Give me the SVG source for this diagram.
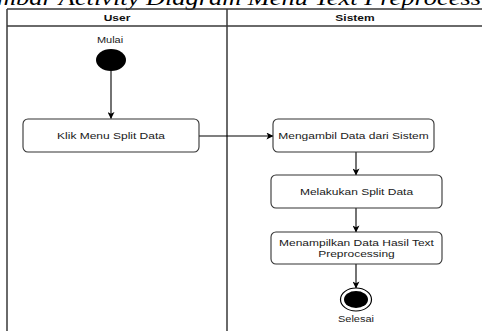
<svg xmlns="http://www.w3.org/2000/svg" width="482" height="331" viewBox="0 0 482 331">
  <defs>
    <style>
      .lane { fill: none; stroke: #3a3a3a; stroke-width: 1.5; }
      .act { fill: #ffffff; stroke: #333333; stroke-width: 1.1; }
      .lbl { font-family: "Liberation Sans", Arial, sans-serif; font-size: 12px; fill: #1a1a1a; text-anchor: middle; }
      .hdr { font-family: "Liberation Sans", Arial, sans-serif; font-size: 12px; font-weight: bold; fill: #111111; text-anchor: middle; }
      .small { font-family: "Liberation Sans", Arial, sans-serif; font-size: 11px; fill: #222222; text-anchor: middle; }
      .cap { font-family: "Liberation Serif", "Times New Roman", serif; font-style: italic; font-size: 26.4px; fill: #000000; }
      .flow { fill: none; stroke: #000000; stroke-width: 1.1; }
    </style>
    <marker id="arrow" viewBox="0 0 8 8" refX="7.5" refY="4" markerWidth="7" markerHeight="7" markerUnits="userSpaceOnUse" orient="auto">
      <path d="M0,0 L8,4 L0,8 L2,4 Z" fill="#000000"/>
    </marker>
  </defs>

  <rect width="482" height="331" fill="#ffffff"/>

  <!-- figure caption, running past the top edge -->
  <text class="cap" transform="translate(-35.3,5) scale(1,0.76)">Gambar Activity Diagram Menu Text Preprocessing</text>

  <!-- swimlanes -->
  <g id="lanes">
    <path class="lane" d="M7,9 H482 M7,26 H482 M7,9 V331 M227,9 V331"/>
    <text class="hdr" transform="translate(117,21) scale(1,0.77)">User</text>
    <text class="hdr" transform="translate(355,21) scale(1,0.77)">Sistem</text>
  </g>

  <!-- connectors -->
  <g id="connectors">
    <path class="flow" d="M111,71 V118.5" marker-end="url(#arrow)"/>
    <path class="flow" d="M199,136 H273" marker-end="url(#arrow)"/>
    <path class="flow" d="M356,152 V175" marker-end="url(#arrow)"/>
    <path class="flow" d="M356,208 V232" marker-end="url(#arrow)"/>
    <path class="flow" d="M356,264 V288" marker-end="url(#arrow)"/>
  </g>

  <g id="start">
    <text class="small" transform="translate(110,42.5) scale(1,0.77)">Mulai</text>
    <ellipse cx="111" cy="60" rx="15" ry="11" fill="#000000"/>
  </g>

  <g id="klik-menu">
    <rect class="act" x="23" y="119" width="176" height="33" rx="5"/>
    <text class="lbl" transform="translate(111,139) scale(1,0.77)">Klik Menu Split Data</text>
  </g>

  <g id="mengambil-data">
    <rect class="act" x="273" y="119" width="161" height="33" rx="5"/>
    <text class="lbl" transform="translate(353.5,139) scale(1,0.77)">Mengambil Data dari Sistem</text>
  </g>

  <g id="split-data">
    <rect class="act" x="271" y="175" width="171" height="33" rx="5"/>
    <text class="lbl" transform="translate(356.5,195) scale(1,0.77)">Melakukan Split Data</text>
  </g>

  <g id="tampil-hasil">
    <rect class="act" x="271" y="232" width="171" height="32" rx="5"/>
    <text class="lbl" transform="translate(356.5,246) scale(1,0.77)">Menampilkan Data Hasil Text</text>
    <text class="lbl" transform="translate(356.5,257) scale(1,0.77)">Preprocessing</text>
  </g>

  <g id="end">
    <ellipse cx="356" cy="299.5" rx="15.5" ry="11.5" fill="#ffffff" stroke="#000000" stroke-width="1.2"/>
    <ellipse cx="356" cy="299.5" rx="12" ry="8.5" fill="#000000"/>
    <text class="small" transform="translate(356,321.5) scale(1,0.77)">Selesai</text>
  </g>
</svg>
